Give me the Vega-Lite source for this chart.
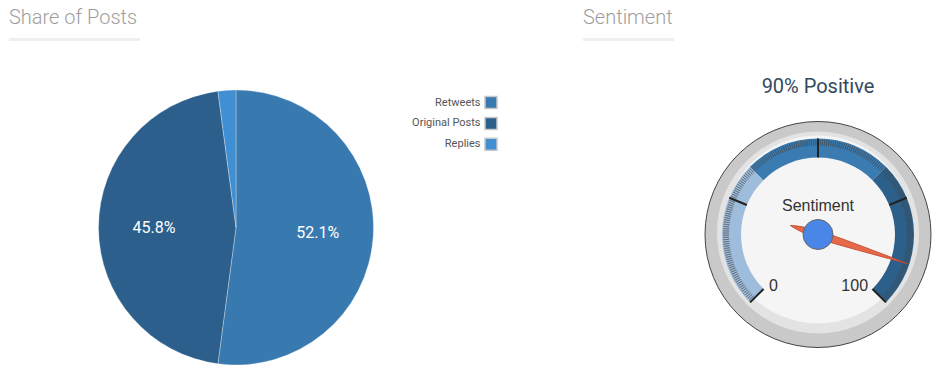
{
  "$schema": "https://vega.github.io/schema/vega-lite/v6.json",
  "padding": {"left": 9, "top": 8, "right": 0, "bottom": 0},
  "background": "white",
  "config": {"view": {"stroke": null}, "font": "Roboto"},
  "datasets": {
    "minor": [{"v":0},{"v":0.5},{"v":1},{"v":1.5},{"v":2},{"v":2.5},{"v":3},{"v":3.5},{"v":4},{"v":4.5},{"v":5},{"v":5.5},{"v":6},{"v":6.5},{"v":7},{"v":7.5},{"v":8},{"v":8.5},{"v":9},{"v":9.5},{"v":10},{"v":10.5},{"v":11},{"v":11.5},{"v":12},{"v":12.5},{"v":13},{"v":13.5},{"v":14},{"v":14.5},{"v":15},{"v":15.5},{"v":16},{"v":16.5},{"v":17},{"v":17.5},{"v":18},{"v":18.5},{"v":19},{"v":19.5},{"v":20},{"v":20.5},{"v":21},{"v":21.5},{"v":22},{"v":22.5},{"v":23},{"v":23.5},{"v":24},{"v":24.5},{"v":25},{"v":25.5},{"v":26},{"v":26.5},{"v":27},{"v":27.5},{"v":28},{"v":28.5},{"v":29},{"v":29.5},{"v":30},{"v":30.5},{"v":31},{"v":31.5},{"v":32},{"v":32.5},{"v":33},{"v":33.5},{"v":34},{"v":34.5},{"v":35},{"v":35.5},{"v":36},{"v":36.5},{"v":37},{"v":37.5},{"v":38},{"v":38.5},{"v":39},{"v":39.5},{"v":40},{"v":40.5},{"v":41},{"v":41.5},{"v":42},{"v":42.5},{"v":43},{"v":43.5},{"v":44},{"v":44.5},{"v":45},{"v":45.5},{"v":46},{"v":46.5},{"v":47},{"v":47.5},{"v":48},{"v":48.5},{"v":49},{"v":49.5},{"v":50},{"v":50.5},{"v":51},{"v":51.5},{"v":52},{"v":52.5},{"v":53},{"v":53.5},{"v":54},{"v":54.5},{"v":55},{"v":55.5},{"v":56},{"v":56.5},{"v":57},{"v":57.5},{"v":58},{"v":58.5},{"v":59},{"v":59.5},{"v":60},{"v":60.5},{"v":61},{"v":61.5},{"v":62},{"v":62.5},{"v":63},{"v":63.5},{"v":64},{"v":64.5},{"v":65},{"v":65.5},{"v":66},{"v":66.5},{"v":67},{"v":67.5},{"v":68},{"v":68.5},{"v":69},{"v":69.5},{"v":70},{"v":70.5},{"v":71},{"v":71.5},{"v":72},{"v":72.5},{"v":73},{"v":73.5},{"v":74},{"v":74.5},{"v":75},{"v":75.5},{"v":76},{"v":76.5},{"v":77},{"v":77.5},{"v":78},{"v":78.5},{"v":79},{"v":79.5},{"v":80},{"v":80.5},{"v":81},{"v":81.5},{"v":82},{"v":82.5},{"v":83},{"v":83.5},{"v":84},{"v":84.5},{"v":85},{"v":85.5},{"v":86},{"v":86.5},{"v":87},{"v":87.5},{"v":88},{"v":88.5},{"v":89},{"v":89.5},{"v":90},{"v":90.5},{"v":91},{"v":91.5},{"v":92},{"v":92.5},{"v":93},{"v":93.5},{"v":94},{"v":94.5},{"v":95},{"v":95.5},{"v":96},{"v":96.5},{"v":97},{"v":97.5},{"v":98},{"v":98.5},{"v":99},{"v":99.5},{"v":100}]
  },
  "bounds": "flush",
  "spacing": 60.5,
  "vconcat": [
    {
      "bounds": "flush",
      "spacing": 443,
      "hconcat": [
        {
          "width": 131, "height": 3,
          "data": {"values": [{"section": "Share of Posts"}]},
          "mark": {"type": "rect", "color": "#eeeeee"},
          "title": {"text": "Share of Posts", "anchor": "start", "frame": "group", "font": "Roboto", "fontSize": 20, "fontWeight": 300, "color": "#9e9e9e", "baseline": "alphabetic", "offset": -6}
        },
        {
          "width": 91, "height": 3,
          "data": {"values": [{"section": "Sentiment"}]},
          "mark": {"type": "rect", "color": "#eeeeee"},
          "title": {"text": "Sentiment", "anchor": "start", "frame": "group", "font": "Roboto", "fontSize": 20, "fontWeight": 300, "color": "#9e9e9e", "baseline": "alphabetic", "offset": -6}
        }
      ]
    },
    {
      "bounds": "flush",
      "spacing": 231,
      "resolve": {"scale": {"color": "independent", "theta": "independent"}},
      "hconcat": [
        {
          "width": 454, "height": 258,
          "data": {"values": [
            {"type": "Retweets", "share": 52.1, "label": "52.1%", "rank": 1},
            {"type": "Original Posts", "share": 45.8, "label": "45.8%", "rank": 2},
            {"type": "Replies", "share": 2.1, "label": "", "rank": 3}
          ]},
          "encoding": {
            "theta": {"field": "share", "type": "quantitative", "stack": true},
            "order": {"field": "rank", "type": "quantitative"}
          },
          "layer": [
            {
              "mark": {"type": "arc", "radius": 137.5, "stroke": "#ffffff", "strokeWidth": 0.5, "strokeOpacity": 0.6},
              "encoding": {
                "color": {
                  "field": "type", "type": "nominal",
                  "scale": {"domain": ["Retweets", "Original Posts", "Replies"], "range": ["#3879b0", "#2c5f8b", "#418fd3"]},
                  "legend": {
                    "orient": "none", "legendX": 475, "legendY": -2.9, "title": null,
                    "symbolType": "square", "symbolSize": 144, "symbolStrokeColor": "#c8c8c8", "symbolStrokeWidth": 1.5, "symbolOpacity": 1,
                    "labelAlign": "right", "labelOffset": -17.5, "labelFont": "Roboto", "labelFontSize": 11, "labelColor": "#555555",
                    "rowPadding": 2.8,
                    "encode": {"symbols": {"update": {"stroke": {"value": "#c8c8c8"}, "strokeWidth": {"value": 1.5}}}}
                  }
                }
              }
            },
            {
              "mark": {"type": "text", "radius": 82, "font": "Roboto", "fontSize": 16, "color": "#ffffff"},
              "encoding": {"text": {"field": "label", "type": "nominal"}}
            }
          ]
        },
        {
          "width": 248, "height": 272,
          "title": {"text": "90% Positive", "anchor": "middle", "frame": "group", "font": "Roboto", "fontSize": 20, "fontWeight": 400, "color": "#34495e", "baseline": "alphabetic", "offset": -14.2},
          "layer": [
            {
              "data": {"values": [{"part": "bezel"}]},
              "mark": {"type": "point", "shape": "circle", "filled": true, "size": 51076, "fill": "#c9c9c9", "stroke": "#444444", "strokeWidth": 1, "opacity": 1}
            },
            {
              "data": {"values": [{"part": "rim"}]},
              "mark": {"type": "point", "shape": "circle", "filled": true, "size": 40804, "fill": "#e3e3e3", "strokeWidth": 0, "opacity": 1, "yOffset": -2}
            },
            {
              "data": {"values": [{"part": "face"}]},
              "mark": {"type": "point", "shape": "circle", "filled": true, "size": 35344, "fill": "#f5f5f5", "strokeWidth": 0, "opacity": 1, "yOffset": -5}
            },
            {
              "data": {"values": [
                {"band": "low", "from": 0, "to": 33.3},
                {"band": "mid", "from": 33.3, "to": 66.7},
                {"band": "high", "from": 66.7, "to": 100}
              ]},
              "mark": {"type": "arc", "radius": 96, "radius2": 77},
              "encoding": {
                "theta": {"field": "from", "type": "quantitative", "stack": null, "scale": {"domain": [0, 100], "range": [-2.35619, 2.35619]}},
                "theta2": {"field": "to"},
                "color": {"field": "band", "type": "nominal", "scale": {"domain": ["low", "mid", "high"], "range": ["#9ebcdb", "#3a7bb1", "#2c5f8a"]}, "legend": null}
              }
            },
            {
              "data": {"name": "minor"},
              "mark": {"type": "arc", "radius": 95, "radius2": 89, "fill": "transparent", "stroke": "#444444", "strokeOpacity": 0.5, "strokeWidth": 0.8},
              "encoding": {
                "theta": {"field": "v", "type": "quantitative", "stack": null},
                "theta2": {"field": "v"}
              }
            },
            {
              "data": {"values": [{"v": 0}, {"v": 25}, {"v": 50}, {"v": 75}, {"v": 100}]},
              "mark": {"type": "arc", "radius": 96, "radius2": 77, "fill": "transparent", "stroke": "#222222", "strokeWidth": 2},
              "encoding": {
                "theta": {"field": "v", "type": "quantitative", "stack": null},
                "theta2": {"field": "v"}
              }
            },
            {
              "data": {"values": [{"v": 0, "t": "0"}]},
              "mark": {"type": "text", "radius": 75, "align": "left", "baseline": "alphabetic", "dx": 4, "dy": 3, "font": "Liberation Sans", "fontSize": 16, "color": "#333333"},
              "encoding": {
                "theta": {"field": "v", "type": "quantitative", "stack": null},
                "text": {"field": "t", "type": "nominal"}
              }
            },
            {
              "data": {"values": [{"v": 100, "t": "100"}]},
              "mark": {"type": "text", "radius": 75, "align": "right", "baseline": "alphabetic", "dx": -3, "dy": 3, "font": "Liberation Sans", "fontSize": 16, "color": "#333333"},
              "encoding": {
                "theta": {"field": "v", "type": "quantitative", "stack": null},
                "text": {"field": "t", "type": "nominal"}
              }
            },
            {
              "data": {"values": [{"t": "Sentiment"}]},
              "mark": {"type": "text", "baseline": "alphabetic", "dy": -24, "font": "Liberation Sans", "fontSize": 16, "color": "#333333"},
              "encoding": {"text": {"field": "t", "type": "nominal"}}
            },
            {
              "data": {"values": [{"value": 90}]},
              "mark": {"type": "point", "shape": "M0,-0.94 Q0.045,-0.1 0.038,0 Q0.03,0.2 0,0.29 Q-0.03,0.2 -0.038,0 Q-0.045,-0.1 0,-0.94 Z", "filled": true, "size": 40000, "fill": "#e8694a", "stroke": "#c0462a", "strokeWidth": 0.8, "opacity": 1},
              "encoding": {
                "angle": {"field": "value", "type": "quantitative", "scale": {"domain": [0, 100], "range": [-135, 135]}}
              }
            },
            {
              "data": {"values": [{"part": "pivot"}]},
              "mark": {"type": "point", "shape": "circle", "filled": true, "size": 900, "fill": "#4a86e8", "stroke": "#666666", "strokeWidth": 1, "opacity": 1}
            }
          ]
        }
      ]
    }
  ]
}
